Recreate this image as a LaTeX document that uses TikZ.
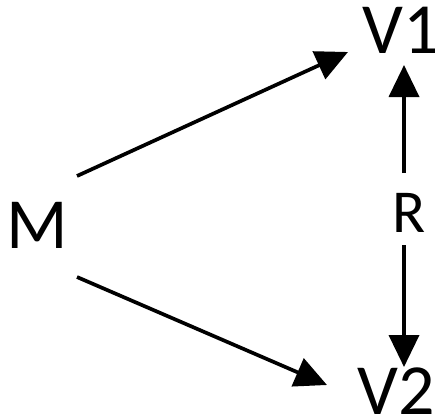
\documentclass[tikz,border=0pt]{standalone}
\usepackage{fontspec}
\setmainfont{Carlito}
\usetikzlibrary{arrows.meta}
\begin{document}
\begin{tikzpicture}[x=1pt,y=-1pt,
  lbl/.style={inner sep=0pt,anchor=center,font=\fontsize{72}{72}\selectfont},
  conn/.style={line width=3.7pt,-{Triangle[length=32pt,width=30pt]}}]
\useasboundingbox (0,0) rectangle (435,416);
\node[lbl] (M) at (37,225) {M};
\node[lbl] (V1) at (401,30) {V1};
\node[lbl] (V2) at (396,391) {V2};
\node[lbl,font=\fontsize{61}{61}\selectfont] (R) at (409,213) {R};
\coordinate (m1) at (77,176);
\coordinate (t1) at (348,52);
\coordinate (m2) at (77,277);
\coordinate (t2) at (327,385);
\coordinate (r1) at (404,173);
\coordinate (v1) at (404,65);
\coordinate (r2) at (404,245);
\coordinate (v2) at (404,367);
\draw[conn] (m1) -- (t1);
\draw[conn] (m2) -- (t2);
\draw[conn] (r1) -- (v1);
\draw[conn] (r2) -- (v2);
\end{tikzpicture}
\end{document}
